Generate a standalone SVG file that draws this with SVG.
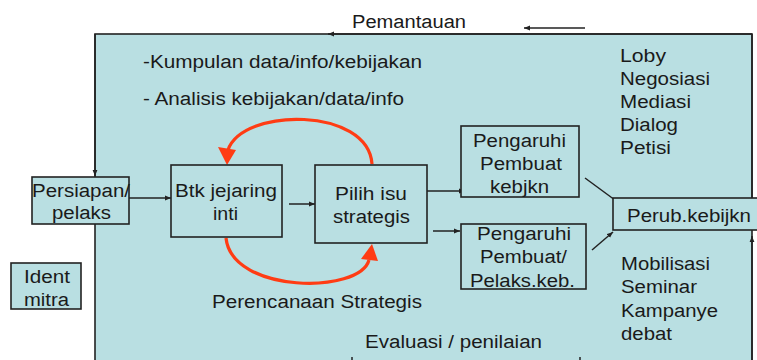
<svg xmlns="http://www.w3.org/2000/svg" width="757" height="360" viewBox="0 0 757 360">
<defs>
<style>
text{font-family:"Liberation Sans",Arial,sans-serif;font-size:18px;fill:#1a1a1a}
.box{fill:#b9dfe2;stroke:#222;stroke-width:1.6}
.ln{fill:none;stroke:#222;stroke-width:1.5}
.red{fill:none;stroke:#ff3c14;stroke-width:3.2}
.rh{fill:#ff3c14}
</style>
<marker id="ah" viewBox="0 0 10 10" refX="10" refY="5" markerWidth="6" markerHeight="6" markerUnits="userSpaceOnUse" orient="auto">
<path d="M0,1 L10,5 L0,9 z" fill="#222"/>
</marker>
</defs>
<rect width="757" height="360" fill="#fff"/>
<g id="frame">
<rect x="95" y="34" width="657" height="340" fill="#b9dfe2" stroke="#222" stroke-width="1.6"/>
</g>
<g id="connectors">
<path class="ln" d="M752,34 L328,34" marker-end="url(#ah)"/>
<path class="ln" d="M95,34 L95,176" marker-end="url(#ah)"/>
<path class="ln" d="M585,28 L524,28" marker-end="url(#ah)"/>
<path class="ln" d="M752,34 L752,198"/>
<path class="ln" d="M752,362 L752,236" marker-end="url(#ah)"/>
<path class="ln" d="M129,198 L171,198" marker-end="url(#ah)"/>
<path class="ln" d="M289,204 L315,204" marker-end="url(#ah)"/>
<path class="ln" d="M427,191 L465,191" marker-end="url(#ah)"/>
<path class="ln" d="M433,231 L460,231" marker-end="url(#ah)"/>
<path class="ln" d="M585,178 L619,203" marker-end="url(#ah)"/>
<path class="ln" d="M592,250 L613,232" marker-end="url(#ah)"/>
<path class="ln" d="M352,357 L352,360"/>
<path class="ln" d="M580,357 L580,360"/>
<path class="red" d="M372,164 C368,107 243,107 228,150"/>
<polygon class="rh" points="227,165 218,147 236,150"/>
<path class="red" d="M226,238 C232,294 360,294 369,260"/>
<polygon class="rh" points="372,244 378,261 361,259"/>
</g>
<g id="labels">
<text x="352" y="28" textLength="114" lengthAdjust="spacingAndGlyphs">Pemantauan</text>
<text x="143" y="68" textLength="279" lengthAdjust="spacingAndGlyphs">-Kumpulan data/info/kebijakan</text>
<text x="143" y="105" textLength="261" lengthAdjust="spacingAndGlyphs">- Analisis kebijakan/data/info</text>
<text x="620" y="62" textLength="46" lengthAdjust="spacingAndGlyphs">Loby</text>
<text x="620" y="85" textLength="90" lengthAdjust="spacingAndGlyphs">Negosiasi</text>
<text x="620" y="108" textLength="71" lengthAdjust="spacingAndGlyphs">Mediasi</text>
<text x="620" y="131" textLength="58" lengthAdjust="spacingAndGlyphs">Dialog</text>
<text x="620" y="154" textLength="51" lengthAdjust="spacingAndGlyphs">Petisi</text>
<text x="621" y="270" textLength="89" lengthAdjust="spacingAndGlyphs">Mobilisasi</text>
<text x="621" y="293" textLength="76" lengthAdjust="spacingAndGlyphs">Seminar</text>
<text x="621" y="317" textLength="97" lengthAdjust="spacingAndGlyphs">Kampanye</text>
<text x="621" y="340" textLength="51" lengthAdjust="spacingAndGlyphs">debat</text>
<text x="212" y="308" textLength="210" lengthAdjust="spacingAndGlyphs">Perencanaan Strategis</text>
<text x="365" y="348" textLength="177" lengthAdjust="spacingAndGlyphs">Evaluasi / penilaian</text>
</g>
<g id="persiapan">
<rect class="box" x="32" y="177" width="97" height="47"/>
<text x="32" y="197" textLength="98" lengthAdjust="spacingAndGlyphs">Persiapan/</text>
<text x="52" y="219" textLength="59" lengthAdjust="spacingAndGlyphs">pelaks</text>
</g>
<g id="ident">
<rect class="box" x="11" y="263" width="70" height="46"/>
<text x="24" y="283" textLength="46" lengthAdjust="spacingAndGlyphs">Ident</text>
<text x="24" y="306" textLength="45" lengthAdjust="spacingAndGlyphs">mitra</text>
</g>
<g id="btk">
<rect class="box" x="171" y="165" width="111" height="72"/>
<text x="175" y="197" textLength="102" lengthAdjust="spacingAndGlyphs">Btk jejaring</text>
<text x="213" y="220" textLength="25" lengthAdjust="spacingAndGlyphs">inti</text>
</g>
<g id="pilih">
<rect class="box" x="315" y="165" width="112" height="78"/>
<text x="335" y="200" textLength="72" lengthAdjust="spacingAndGlyphs">Pilih isu</text>
<text x="333" y="223" textLength="77" lengthAdjust="spacingAndGlyphs">strategis</text>
</g>
<g id="pengaruhi1">
<rect class="box" x="461" y="126" width="118" height="71"/>
<text x="473" y="147" textLength="93" lengthAdjust="spacingAndGlyphs">Pengaruhi</text>
<text x="480" y="170" textLength="82" lengthAdjust="spacingAndGlyphs">Pembuat</text>
<text x="490" y="193" textLength="59" lengthAdjust="spacingAndGlyphs">kebjkn</text>
</g>
<g id="pengaruhi2">
<rect class="box" x="461" y="224" width="125" height="65"/>
<text x="477" y="240" textLength="94" lengthAdjust="spacingAndGlyphs">Pengaruhi</text>
<text x="480" y="263" textLength="87" lengthAdjust="spacingAndGlyphs">Pembuat/</text>
<text x="470" y="287" textLength="105" lengthAdjust="spacingAndGlyphs">Pelaks.keb.</text>
</g>
<g id="perub">
<rect class="box" x="613" y="198" width="160" height="32"/>
<text x="627" y="222" textLength="124" lengthAdjust="spacingAndGlyphs">Perub.kebijkn</text>
</g>
</svg>
